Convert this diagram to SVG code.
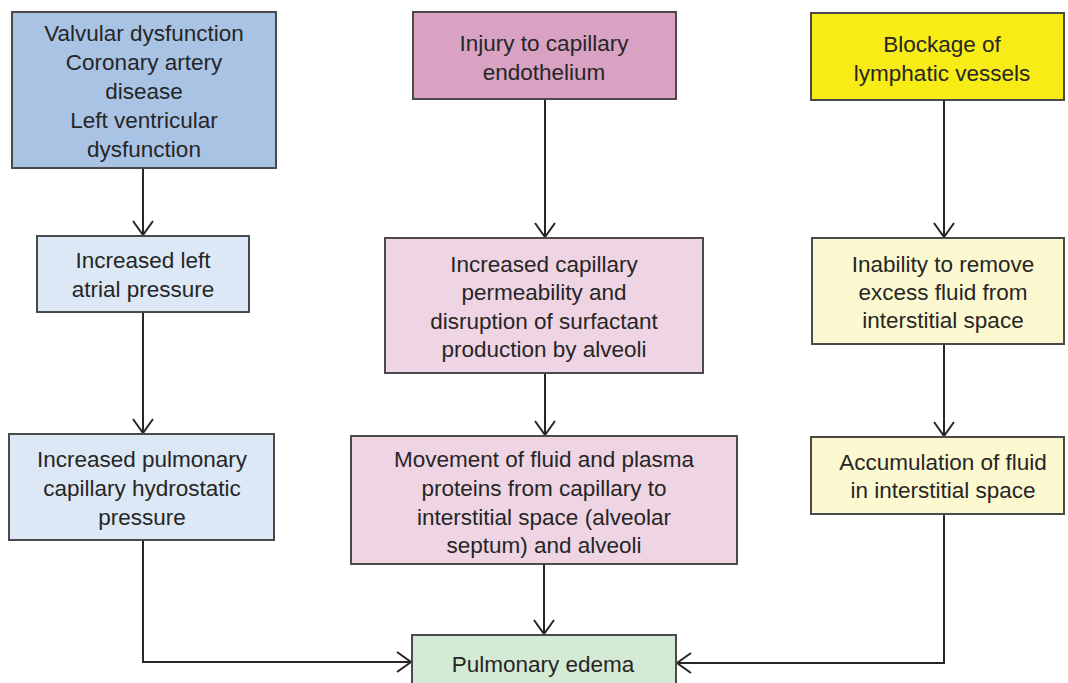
<svg xmlns="http://www.w3.org/2000/svg" width="1068" height="683" viewBox="0 0 1068 683">
  <style>
    .box { stroke: #4a4a4a; stroke-width: 2; }
    .lbl { font-family: "Liberation Sans", Arial, sans-serif; font-size: 22.5px; fill: #262626; text-anchor: middle; }
    .con { fill: none; stroke: #262626; stroke-width: 2; }
    .blue-dark { fill: #a9c3e5; }
    .blue-light { fill: #dce8f5; }
    .pink-dark { fill: #d9a2c3; }
    .pink-light { fill: #efd4e4; }
    .yellow-dark { fill: #f8ec17; }
    .yellow-light { fill: #fcf8cf; }
    .green { fill: #d4ead4; }
  </style>
  <defs>
    <marker id="arrow" markerWidth="24" markerHeight="24" refX="16" refY="11" orient="auto" markerUnits="userSpaceOnUse">
      <path d="M2,1 L16,11 L2,21" fill="none" stroke="#262626" stroke-width="2"/>
    </marker>
  </defs>
  <rect width="1068" height="683" fill="#ffffff"/>

  <!-- connectors -->
  <g id="connectors">
    <path class="con" d="M143,168 V235" marker-end="url(#arrow)"/>
    <path class="con" d="M143,312 V433" marker-end="url(#arrow)"/>
    <path class="con" d="M143,540 V662 H411" marker-end="url(#arrow)"/>
    <path class="con" d="M545,99 V237" marker-end="url(#arrow)"/>
    <path class="con" d="M545,373 V435" marker-end="url(#arrow)"/>
    <path class="con" d="M544,564 V634" marker-end="url(#arrow)"/>
    <path class="con" d="M944,100 V237" marker-end="url(#arrow)"/>
    <path class="con" d="M944,344 V436" marker-end="url(#arrow)"/>
    <path class="con" d="M944,514 V663 H677" marker-end="url(#arrow)"/>
  </g>

  <!-- left column: cardiac causes -->
  <g id="cardiac-causes">
    <rect class="box blue-dark" x="12" y="12" width="264" height="156"/>
    <text class="lbl" x="144" y="41">Valvular dysfunction</text>
    <text class="lbl" x="144" y="70">Coronary artery</text>
    <text class="lbl" x="144" y="99">disease</text>
    <text class="lbl" x="144" y="128">Left ventricular</text>
    <text class="lbl" x="144" y="157">dysfunction</text>
  </g>
  <g id="left-atrial-pressure">
    <rect class="box blue-light" x="37" y="236" width="212" height="76"/>
    <text class="lbl" x="143" y="268">Increased left</text>
    <text class="lbl" x="143" y="297">atrial pressure</text>
  </g>
  <g id="hydrostatic-pressure">
    <rect class="box blue-light" x="9" y="434" width="265" height="106"/>
    <text class="lbl" x="142" y="467">Increased pulmonary</text>
    <text class="lbl" x="142" y="496">capillary hydrostatic</text>
    <text class="lbl" x="142" y="525">pressure</text>
  </g>

  <!-- middle column: endothelial injury -->
  <g id="endothelial-injury">
    <rect class="box pink-dark" x="413" y="12" width="263" height="87"/>
    <text class="lbl" x="544" y="51">Injury to capillary</text>
    <text class="lbl" x="544" y="80">endothelium</text>
  </g>
  <g id="capillary-permeability">
    <rect class="box pink-light" x="385" y="238" width="318" height="135"/>
    <text class="lbl" x="544" y="272">Increased capillary</text>
    <text class="lbl" x="544" y="300">permeability and</text>
    <text class="lbl" x="544" y="329">disruption of surfactant</text>
    <text class="lbl" x="544" y="357">production by alveoli</text>
  </g>
  <g id="fluid-movement">
    <rect class="box pink-light" x="351" y="436" width="386" height="128"/>
    <text class="lbl" x="544" y="467">Movement of fluid and plasma</text>
    <text class="lbl" x="544" y="496">proteins from capillary to</text>
    <text class="lbl" x="544" y="525">interstitial space (alveolar</text>
    <text class="lbl" x="544" y="553">septum) and alveoli</text>
  </g>

  <!-- right column: lymphatic blockage -->
  <g id="lymphatic-blockage">
    <rect class="box yellow-dark" x="811" y="13" width="253" height="87"/>
    <text class="lbl" x="942" y="52">Blockage of</text>
    <text class="lbl" x="942" y="81">lymphatic vessels</text>
  </g>
  <g id="fluid-removal">
    <rect class="box yellow-light" x="812" y="238" width="252" height="106"/>
    <text class="lbl" x="943" y="272">Inability to remove</text>
    <text class="lbl" x="943" y="300">excess fluid from</text>
    <text class="lbl" x="943" y="328">interstitial space</text>
  </g>
  <g id="fluid-accumulation">
    <rect class="box yellow-light" x="811" y="437" width="253" height="77"/>
    <text class="lbl" x="943" y="470">Accumulation of fluid</text>
    <text class="lbl" x="943" y="498">in interstitial space</text>
  </g>

  <!-- outcome -->
  <g id="pulmonary-edema">
    <rect class="box green" x="412" y="635" width="264" height="70"/>
    <text class="lbl" x="543" y="672">Pulmonary edema</text>
  </g>
</svg>
